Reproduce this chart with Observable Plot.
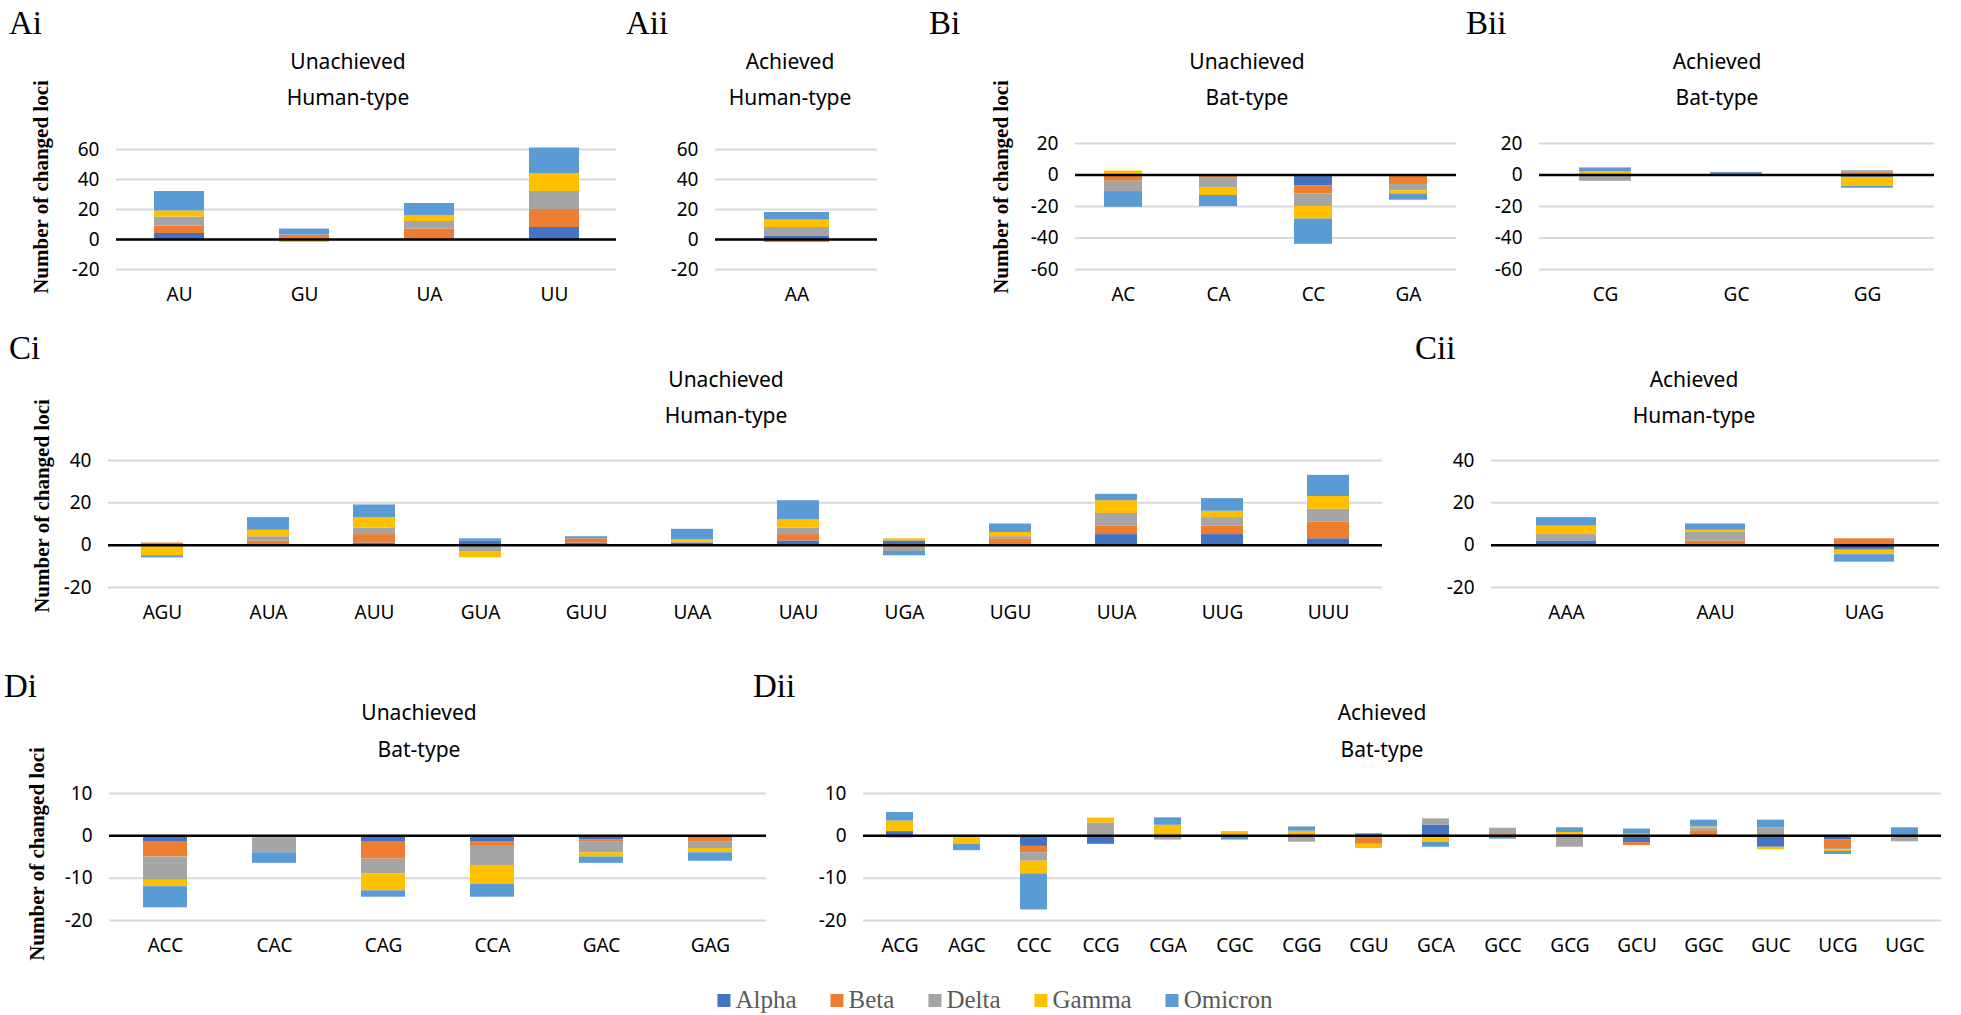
<!DOCTYPE html>
<html><head><meta charset="utf-8">
<script src="https://cdn.jsdelivr.net/npm/d3@7"></script>
<script src="https://cdn.jsdelivr.net/npm/@observablehq/plot@0.6"></script>
<style>
body{margin:0;background:#fff;}
#root{position:relative;width:1961px;height:1015px;overflow:hidden;background:#fff;font-family:"Noto Sans",sans-serif;color:#000;}
.abs{position:absolute;}
.plabel{font-family:"Liberation Serif","Times New Roman",serif;font-size:33px;line-height:1;transform:translateY(-50%);white-space:nowrap;}
.title{font-family:"Noto Sans",sans-serif;font-size:21px;line-height:1;transform:translate(-50%,-50%);white-space:nowrap;}
.ytitle{font-family:"Liberation Serif","Times New Roman",serif;font-weight:bold;font-size:21px;line-height:1;white-space:nowrap;transform:translate(-50%,-50%) rotate(-90deg);}
#legend{position:absolute;left:995px;top:1000px;transform:translate(-50%,-50%);display:flex;align-items:center;gap:34px;font-family:"Liberation Serif","Times New Roman",serif;font-size:25px;color:#595959;white-space:nowrap;}
#legend .item{display:flex;align-items:center;gap:5px;}
#legend .sw{width:13px;height:13px;display:inline-block;}
</style>
</head><body><div id="root"></div>
<script>
// ---- data ----
const variants = ["Alpha","Beta","Delta","Gamma","Omicron"];
const variantColors = ["#4472C4","#ED7D31","#A5A5A5","#FFC000","#5B9BD5"];

const ticksA = [-20,0,20,40,60];
const ticksB = [-60,-40,-20,0,20];
const ticksC = [-20,0,20,40];
const ticksD = [-20,-10,0,10];

// rows: one per codon, columns in variant order (Alpha, Beta, Delta, Gamma, Omicron)
const aiCodons = ["AU","GU","UA","UU"];
const aiValues = [[4,5,6,4,13],[0,3,0,-2,4],[0,7,5,4,8],[8,12,12,12,17]];

const aiiCodons = ["AA"];
const aiiValues = [[2,-2,6,5,5]];

const biCodons = ["AC","CA","CC","GA"];
const biValues = [[0,-4,-6.5,2.5,-10],[0,-2,-6,-5,-7],[-7,-5,-8,-8,-16],[0,-6,-4,-2,-4]];

const biiCodons = ["CG","GC","GG"];
const biiValues = [[0,-1,-3,2,2.5],[0,0,0.4,0,1.2],[-1.5,1.5,1.2,-5.7,-1.2]];

const ciCodons = ["AGU","AUA","AUU","GUA","GUU","UAA","UAU","UGA","UGU","UUA","UUG","UUU"];
const ciValues = [
  [0,1,0,-5,-1],[0,2,2,3,6],[1,4,3,5,6],[2,0,-3,-3,1],[1,2,0,-0.5,1],[1,0,0.5,1,5],
  [2,3,3,4,9],[2,-1,-2,1,-2],[0,3,1,2,4],[5,4,6,6,3],[5,4,4,3,6],[3,8,6,6,10]
];

const ciiCodons = ["AAA","AAU","UAG"];
const ciiValues = [[2,0,3,4,4],[0,2,4,1,3],[-2,3,-0.5,-2,-3.5]];

const diCodons = ["ACC","CAC","CAG","CCA","GAC","GAG"];
const diValues = [
  [-1.5,-3.5,-5.5,-1.5,-5],[0,-0.5,-3.5,0,-2.5],[-1.5,-4,-3.5,-4,-1.5],
  [-1.5,-1,-4.5,-4.5,-3],[-1,-0.5,-2.5,-1,-1.5],[0,-1.5,-1.5,-1,-2]
];

const diiCodons = ["ACG","AGC","CCC","CCG","CGA","CGC","CGG","CGU","GCA","GCC","GCG","GCU","GGC","GUC","UCG","UGC"];
const diiValues = [
  [1,0,-0.5,2.5,2],[0,-0.5,0,-1.5,-1.5],[-2.5,-1.5,-2,-3,-8.5],[-2,0,3,1.2,0],
  [0,0,-1,2.5,1.75],[0,0,0,1,-1],[0,0.3,-1.5,0.8,1],[-0.5,-1.5,0,-1,0.5],
  [2.5,-0.5,1.5,-1,-1.2],[0,0.3,1.5,-0.3,-0.5],[0,0.4,-2.7,0.4,1.1],[-1.6,-0.7,0,0.4,1.2],
  [0,1.2,0.5,0.4,1.6],[-2.7,0,1.9,-0.6,1.8],[-1,-2,-0.3,-0.4,-0.7],[0,-0.4,-1,0,1.9]
];

// ---- layout ----
const panels = [
  {id:"Ai",  codons:aiCodons,  values:aiValues,  ticks:ticksA, domain:[-20,60], x0:116,  x1:616,  yT:149, yB:269, titles:["Unachieved","Human-type"], tcx:348,  tY:[61,97],   lx:9,   ly:23,  yt:{x:41, y:187}},
  {id:"Aii", codons:aiiCodons, values:aiiValues, ticks:ticksA, domain:[-20,60], x0:715,  x1:877,  yT:149, yB:269, titles:["Achieved","Human-type"],   tcx:790,  tY:[61,97],   lx:626, ly:23},
  {id:"Bi",  codons:biCodons,  values:biValues,  ticks:ticksB, domain:[-60,20], x0:1075, x1:1456, yT:143, yB:269, titles:["Unachieved","Bat-type"],   tcx:1247, tY:[61,97],   lx:929, ly:23,  yt:{x:1001, y:187}},
  {id:"Bii", codons:biiCodons, values:biiValues, ticks:ticksB, domain:[-60,20], x0:1539, x1:1934, yT:143, yB:269, titles:["Achieved","Bat-type"],     tcx:1717, tY:[61,97],   lx:1466, ly:23},
  {id:"Ci",  codons:ciCodons,  values:ciValues,  ticks:ticksC, domain:[-20,40], x0:108,  x1:1382, yT:460, yB:587, titles:["Unachieved","Human-type"], tcx:726,  tY:[379,415], lx:9,   ly:348, yt:{x:42, y:506}},
  {id:"Cii", codons:ciiCodons, values:ciiValues, ticks:ticksC, domain:[-20,40], x0:1491, x1:1939, yT:460, yB:587, titles:["Achieved","Human-type"],   tcx:1694, tY:[379,415], lx:1415, ly:348},
  {id:"Di",  codons:diCodons,  values:diValues,  ticks:ticksD, domain:[-20,10], x0:109,  x1:766,  yT:793, yB:920, titles:["Unachieved","Bat-type"],   tcx:419,  tY:[712,749], lx:4,   ly:686, yt:{x:37, y:854}},
  {id:"Dii", codons:diiCodons, values:diiValues, ticks:ticksD, domain:[-20,10], x0:863,  x1:1941, yT:793, yB:920, titles:["Achieved","Bat-type"],     tcx:1382, tY:[712,749], lx:753, ly:686}
];

const root = document.getElementById("root");
function addDiv(cls, text, left, top) {
  const d = document.createElement("div");
  d.className = "abs " + cls;
  d.textContent = text;
  d.style.left = left + "px";
  d.style.top = top + "px";
  root.appendChild(d);
  return d;
}

for (const p of panels) {
  const data = [];
  p.codons.forEach((c, i) => p.values[i].forEach((v, j) => {
    if (v !== 0) data.push({codon: c, variant: variants[j], value: v});
  }));
  const mL = 75, mR = 12, mT = 12, mB = 45;
  const svg = Plot.plot({
    width: p.x1 - p.x0 + mL + mR,
    height: p.yB - p.yT + mT + mB,
    marginLeft: mL, marginRight: mR, marginTop: mT, marginBottom: mB,
    style: {fontFamily: "'Noto Sans', sans-serif", fontSize: "19px", color: "#000", background: "transparent", overflow: "visible"},
    x: {domain: p.codons, paddingInner: 0.6, paddingOuter: 0.3},
    y: {domain: p.domain},
    color: {domain: variants, range: variantColors},
    marks: [
      Plot.gridY(p.ticks, {stroke: "#d9d9d9", strokeOpacity: 1, strokeWidth: 2}),
      Plot.barY(data, Plot.stackY({x: "codon", y: "value", fill: "variant", order: variants})),
      Plot.ruleY([0], {stroke: "#000", strokeWidth: 2.5}),
      Plot.axisY(p.ticks, {tickSize: 0, tickPadding: 17, label: null, fontSize: 19, tickFormat: d => String(d)}),
      Plot.axisX({tickSize: 0, tickPadding: 18, label: null, fontSize: 19})
    ]
  });
  svg.style.position = "absolute";
  svg.style.left = (p.x0 - mL) + "px";
  svg.style.top = (p.yT - mT) + "px";
  root.appendChild(svg);

  addDiv("plabel", p.id, p.lx, p.ly);
  addDiv("title", p.titles[0], p.tcx, p.tY[0]);
  addDiv("title", p.titles[1], p.tcx, p.tY[1]);
  if (p.yt) addDiv("ytitle", "Number of changed loci", p.yt.x, p.yt.y);
}

// legend
const legend = document.createElement("div");
legend.id = "legend";
variants.forEach((v, i) => {
  const it = document.createElement("div");
  it.className = "item";
  const sw = document.createElement("span");
  sw.className = "sw";
  sw.style.background = variantColors[i];
  const t = document.createElement("span");
  t.textContent = v;
  it.appendChild(sw); it.appendChild(t);
  legend.appendChild(it);
});
root.appendChild(legend);
</script>
</body></html>
